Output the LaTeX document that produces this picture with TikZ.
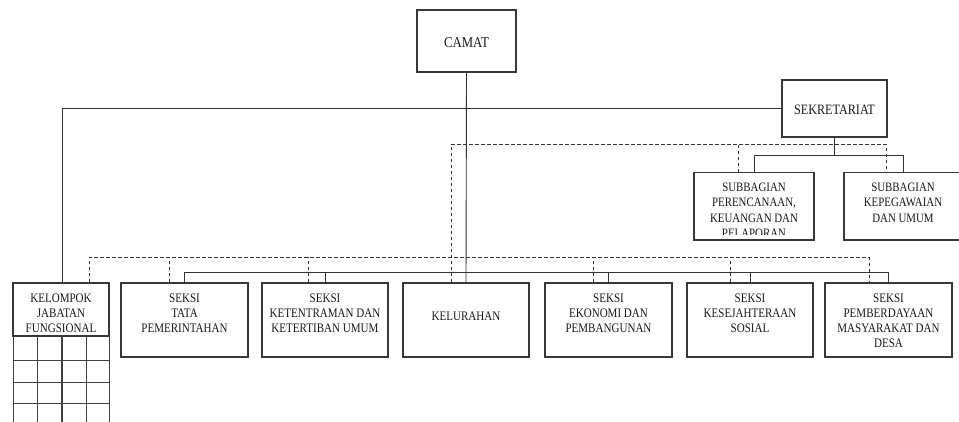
\documentclass[tikz,border=0pt]{standalone}
\usepackage{fontspec}
\setmainfont[FakeStretch=0.85]{Liberation Serif}
\begin{document}
\begin{tikzpicture}[x=1pt,y=-1pt,
  box/.style={draw=black!78,line width=1.1pt,rectangle,inner sep=0pt},
  txt/.style={inner sep=0pt,align=center,anchor=north,text=black!90,font=\fontsize{13}{15}\selectfont},
  conn/.style={draw=black!80,line width=0.9pt},
  dsh/.style={draw=black!80,line width=0.9pt,dash pattern=on 3.5pt off 2.5pt},
  gridl/.style={draw=black!75,line width=0.9pt}]
\useasboundingbox (0,0) rectangle (959,422);
% boxes
\node[box,minimum width=99pt,minimum height=62pt] (camat) at (466.5,41) {};
\node[text=black!90,font=\fontsize{15}{15}\selectfont,inner sep=0pt] (camatt) at (466.5,42.2) {CAMAT};
\node[box,minimum width=105pt,minimum height=57pt] (sekr) at (834.5,108.5) {};
\node[text=black!90,font=\fontsize{14.3}{15}\selectfont,inner sep=0pt] (sekrt) at (834.5,110) {SEKRETARIAT};
\node[box,minimum width=120pt,minimum height=67.3pt] (sub1) at (754,206.35) {};
\node[box,minimum width=118pt,minimum height=67.3pt] (sub2) at (903,206.35) {};
\begin{scope}
\clip (694,173) rectangle (814,234.5);
\node[txt,font=\fontsize{12.8}{15.5}\selectfont] (sub1t) at ([yshift=-10.6pt]sub1.north) {SUBBAGIAN\\PERENCANAAN,\\KEUANGAN DAN\\PELAPORAN};
\end{scope}
\node[txt,font=\fontsize{12.8}{15.5}\selectfont] (sub2t) at ([yshift=-10.6pt]sub2.north) {SUBBAGIAN\\KEPEGAWAIAN\\DAN UMUM};
\node[box,minimum width=96pt,minimum height=53pt] (kelomp) at (61,309.5) {};
\node[txt] (kelompt) at ([yshift=-11.2pt]kelomp.north) {KELOMPOK\\JABATAN\\FUNGSIONAL};
\node[box,minimum width=127pt,minimum height=74pt] (tata) at (184.5,320) {};
\node[box,minimum width=126pt,minimum height=74pt] (tentram) at (325,320) {};
\node[box,minimum width=126pt,minimum height=74pt] (lurah) at (466,320) {};
\node[box,minimum width=127pt,minimum height=74pt] (ekon) at (608.5,320) {};
\node[box,minimum width=126pt,minimum height=74pt] (sejah) at (750,320) {};
\node[box,minimum width=127pt,minimum height=74pt] (daya) at (888.5,320) {};
\node[txt] (tatat) at ([yshift=-11.2pt]tata.north) {SEKSI\\TATA\\PEMERINTAHAN};
\node[txt] (tentramt) at ([yshift=-11.2pt]tentram.north) {SEKSI\\KETENTRAMAN DAN\\KETERTIBAN UMUM};
\node[txt] (luraht) at ([yshift=-29.2pt]lurah.north) {KELURAHAN};
\node[txt] (ekont) at ([yshift=-11.2pt]ekon.north) {SEKSI\\EKONOMI DAN\\PEMBANGUNAN};
\node[txt] (sejaht) at ([yshift=-11.2pt]sejah.north) {SEKSI\\KESEJAHTERAAN\\SOSIAL};
\node[txt] (dayat) at ([yshift=-11.2pt]daya.north) {SEKSI\\PEMBERDAYAAN\\MASYARAKAT DAN\\DESA};
% grid under kelompok
\foreach \x in {13,37,86,109} \draw[gridl] (\x,336) -- (\x,426);
\draw[gridl,line width=1.3pt] (62,336) -- (62,426);
\foreach \y in {360,382,403} \draw[gridl] (13,\y) -- (109,\y);
% bus coordinates
\coordinate (dtop) at (0,144.5);
\coordinate (sbus) at (0,155);
\coordinate (db) at (0,257.5);
\coordinate (sb) at (0,272);
% solid connectors
\draw[conn] (camat.south) -- (lurah.north);
\draw[conn] ([xshift=1pt]kelomp.north) |- (sekr.west);
\draw[conn] (sekr.south) -- (sekr.south |- sbus);
\draw[conn] (sub1.north) |- (sub2.north |- sbus) -- (sub2.north);
\draw[conn] (tata.north) |- (daya.north |- sb) -- (daya.north);
\foreach \n in {tentram,ekon,sejah} \draw[conn] (\n.north) -- (\n.north |- sb);
% dashed connectors
\draw[dsh] ([xshift=-15pt]lurah.north) |- ([xshift=-17pt]sub2.north |- dtop) -- ([xshift=-17pt]sub2.north);
\draw[dsh] ([xshift=-16pt]sub1.north) -- ([xshift=-16pt]sub1.north |- dtop);
\draw[dsh] ([xshift=28pt]kelomp.north) |- ([xshift=-19.5pt]daya.north |- db) -- ([xshift=-19.5pt]daya.north);
\foreach \n/\o in {tata/-15.5,tentram/-17,ekon/-15.5,sejah/-20}
  \draw[dsh] ([xshift=\o pt]\n.north) -- ([xshift=\o pt]\n.north |- db);
\end{tikzpicture}
\end{document}
